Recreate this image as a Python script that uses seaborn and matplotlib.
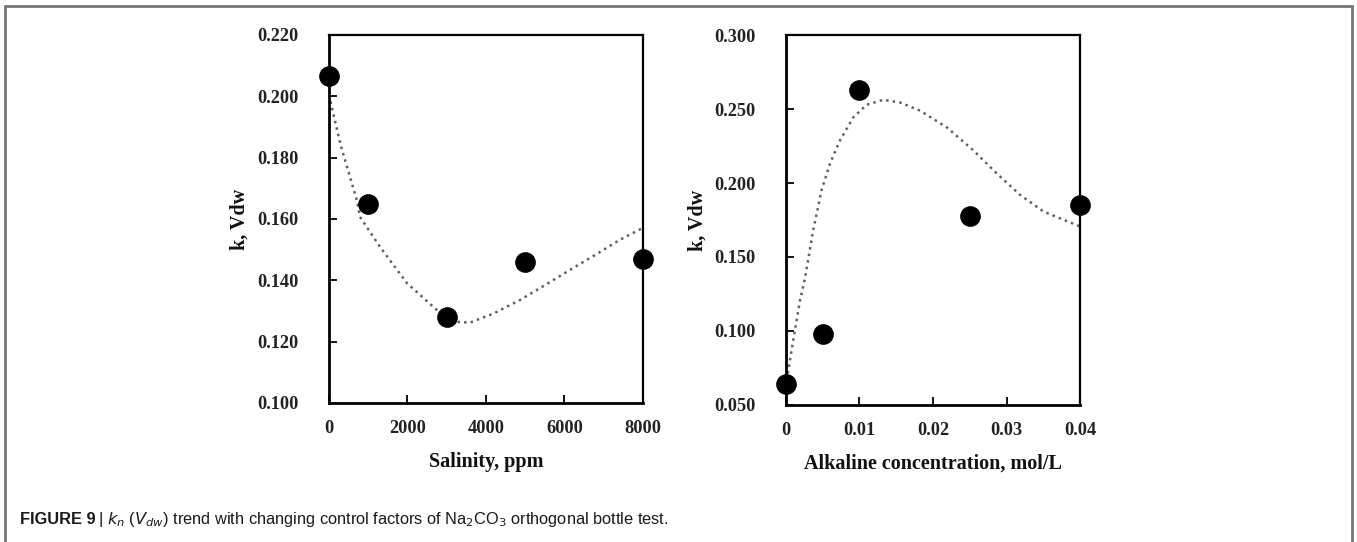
import numpy as np
import pandas as pd
import matplotlib
matplotlib.use("Agg")
import matplotlib.pyplot as plt
import seaborn as sns
from matplotlib.lines import Line2D

# Data: measured points
salinity = [0, 1000, 3000, 5000, 8000]
k_salinity = [0.2065, 0.165, 0.128, 0.146, 0.147]
alkaline = [0.0, 0.005, 0.01, 0.025, 0.04]
k_alkaline = [0.064, 0.098, 0.263, 0.178, 0.185]

# Trend lines
sal_trend_x = [0, 300, 713, 790, 1300, 1987, 2750, 3160, 3590, 4200, 4870, 5500, 6140, 6800, 7410, 8000]
sal_trend_y = [0.2004, 0.184, 0.166, 0.1607, 0.1509, 0.1391, 0.1303, 0.1265, 0.1262, 0.1292, 0.1336,
               0.1384, 0.1434, 0.1484, 0.1532, 0.1571]
alk_trend_x = [0.0001, 0.0010, 0.0019, 0.00259, 0.00372, 0.00485, 0.00599, 0.00735, 0.00916, 0.01098,
               0.01324, 0.01551, 0.01823, 0.02185, 0.02548, 0.02866, 0.03184, 0.03501, 0.03773, 0.0400]
alk_trend_y = [0.0669, 0.094, 0.1205, 0.1356, 0.1685, 0.1953, 0.2132, 0.2288, 0.2444, 0.2529,
               0.2562, 0.2544, 0.2489, 0.2377, 0.2221, 0.2065, 0.1920, 0.1808, 0.1752, 0.1707]

sal_ticks = [0, 2000, 4000, 6000, 8000]
sal_yticks = [0.100, 0.120, 0.140, 0.160, 0.180, 0.200, 0.220]
alk_ticks = [0, 0.01, 0.02, 0.03, 0.04]
alk_yticks = [0.050, 0.100, 0.150, 0.200, 0.250, 0.300]

sns.set_theme(style="white")
plt.rcParams['font.family'] = ['Liberation Serif', 'DejaVu Serif']

fig = plt.figure(figsize=(13.57, 5.42), dpi=100)
ax1 = fig.add_axes([0.2424, 0.2565, 0.2314, 0.679])
ax2 = fig.add_axes([0.5792, 0.2528, 0.2167, 0.6826])

def style(ax, xlim, ylim, xt, yt, xfmt, yfmt, xlabel):
    ax.set_xlim(*xlim)
    ax.set_ylim(*ylim)
    ax.set_xticks(xt)
    ax.set_yticks(yt)
    ax.set_xticklabels([xfmt(v) for v in xt])
    ax.set_yticklabels([yfmt(v) for v in yt])
    for s in ['left', 'bottom']:
        ax.spines[s].set_linewidth(2.0)
    for s in ['top', 'right']:
        ax.spines[s].set_linewidth(1.6)
    for s in ax.spines.values():
        s.set_color('black')
        s.set_visible(True)
    ax.tick_params(axis='both', direction='in', length=6, width=1.3, color='black',
                   labelsize=13.2, top=False, right=False, left=True, bottom=True)
    ax.tick_params(axis='y', pad=22)
    ax.tick_params(axis='x', pad=12)
    for lab in ax.get_xticklabels() + ax.get_yticklabels():
        lab.set_fontweight('bold')
        lab.set_color('#222222')
    ax.set_xlabel(xlabel, fontsize=14.5, fontweight='bold', labelpad=11, color='#111111')
    ax.set_ylabel('k, Vdw', fontsize=14.5, fontweight='bold', labelpad=5, color='#111111')
    ax.grid(False)

# Left panel
sns.lineplot(x=sal_trend_x, y=sal_trend_y, ax=ax1, color='#606060', linestyle=':',
             linewidth=1.8, zorder=2)
sns.scatterplot(x=salinity, y=k_salinity, ax=ax1, color='black', s=190, edgecolor='black',
                zorder=3, clip_on=False)
style(ax1, (0, 8000), (0.100, 0.220), sal_ticks, sal_yticks,
      lambda v: f"{int(v)}", lambda v: f"{v:.3f}", 'Salinity, ppm')

# Right panel
sns.lineplot(x=alk_trend_x, y=alk_trend_y, ax=ax2, color='#606060', linestyle=':',
             linewidth=1.8, zorder=2)
sns.scatterplot(x=alkaline, y=k_alkaline, ax=ax2, color='black', s=190, edgecolor='black',
                zorder=3, clip_on=False)
style(ax2, (0, 0.04), (0.050, 0.300), alk_ticks, alk_yticks,
      lambda v: "0" if v == 0 else f"{v:.2f}", lambda v: f"{v:.3f}",
      'Alkaline concentration, mol/L')

# Frame
frame_kw = dict(color='#777777', linewidth=2.0, transform=fig.transFigure)
fig.add_artist(Line2D([0.0037, 0.9963], [0.989, 0.989], **frame_kw))
fig.add_artist(Line2D([0.0037, 0.0037], [0.0, 0.989], **frame_kw))
fig.add_artist(Line2D([0.9963, 0.9963], [0.0, 0.989], **frame_kw))

# Caption
cap_font = ['Liberation Sans', 'DejaVu Sans']
fig.text(0.015, 0.0335, "FIGURE 9", fontsize=11.8, family=cap_font, fontweight='bold',
         color='#1a1a1a', va='baseline')
fig.text(0.0725, 0.0335, "|", fontsize=11.8, family=cap_font, color='#1a1a1a', va='baseline')
fig.text(0.0785, 0.0335,
         r"$\mathit{k_n}$ ($\mathit{V_{dw}}$) trend with changing control factors of Na$_2$CO$_3$ orthogonal bottle test.",
         fontsize=11.8, family=cap_font, color='#1a1a1a', va='baseline')

fig.savefig('out.png', dpi=100)
